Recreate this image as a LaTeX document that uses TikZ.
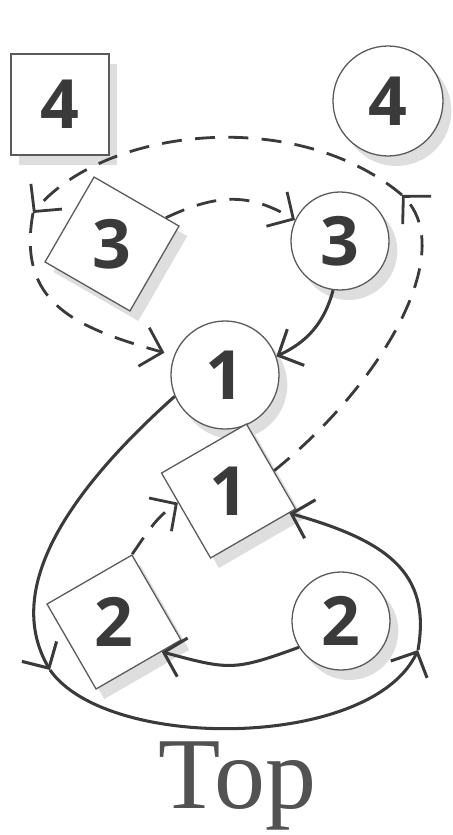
\documentclass[tikz,border=0pt]{standalone}
\usepackage{fontspec}
\usetikzlibrary{arrows.meta,shadows,shapes.geometric}
\newfontfamily\dfont{Open Sans}
\newfontfamily\tfont{Liberation Serif}
\definecolor{ink}{HTML}{3A3A3A}
\definecolor{edgegray}{HTML}{5A5A5A}
\begin{document}
\begin{tikzpicture}[x=0.03cm,y=0.03cm,
  ndbase/.style={draw=edgegray, line width=1.1pt, fill=white, inner sep=0pt, text=ink,
    font=\dfont\bfseries\fontsize{58}{58}\selectfont,
    drop shadow={shadow xshift=0.25cm, shadow yshift=-0.3cm, fill=black!13, opacity=1}},
  ndcirc/.style={ndbase, circle},
  ndbox/.style={ndbase, rectangle},
  ndtilt/.style={ndbase, regular polygon, regular polygon sides=4, minimum size=4.16cm, shape border rotate=#1},
  barbtip/.style={-{Straight Barb[length=0.58cm,width=1.2cm]}},
  solidline/.style={draw=ink, line width=2.6pt, barbtip},
  dashline/.style={draw=ink, line width=2.4pt, dash pattern=on 0.6cm off 0.4cm, barbtip}]
\useasboundingbox (0,0) rectangle (453,-835);

\node[ndbox, minimum width=2.94cm, minimum height=3.03cm] (s4) at (60,-104.5) {4};
\node[ndcirc, minimum size=3.3cm] (c4) at (388,-101) {4};
\node[ndtilt=-30] (s3) at (112,-244) {3};
\node[ndcirc, minimum size=2.94cm] (c3) at (340,-241) {3};
\node[ndcirc, minimum size=3.24cm] (c1) at (225,-375) {1};
\node[ndtilt=30] (s1) at (228.5,-491) {1};
\node[ndtilt=30] (s2) at (114,-622) {2};
\node[ndcirc, minimum size=2.94cm] (c2) at (341,-621) {2};

\coordinate (a4) at (402,-195);
\coordinate (a3) at (33,-213);
\coordinate (p1) at (50,-670);
\coordinate (p2) at (418,-650);

% dashed loop
\draw[dashline] (s1.24) .. controls (383,-383) and (458,-252) .. (a4);
\draw[dashline] (a4) .. controls (295,-105) and (102,-128) .. (a3);
\draw[dashline, shorten >=0.3cm] (a3) .. controls (17,-302) and (73,-327) .. (c1.159);
\draw[dashline] (s3.26) .. controls +(25:55) and +(149:55) .. (c3.155);
\draw[dashline] (s2.75) to[out=55,in=214] (s1.193);

% solid
\draw[solidline] (c3.262) to[out=255,in=25] (c1.20);
\draw[solidline] (c1.203) .. controls (61.5,-497.4) and (5,-592) .. (p1);
\draw[solidline] (p1) .. controls (107.4,-751.9) and (371.5,-749.7) .. (p2);
\draw[solidline] (p2) .. controls (431.9,-571.2) and (384.9,-540.3) .. (s1.-20);
\draw[solidline] (c2.212) to[out=200,in=-15,looseness=1.3] (s2.-32);

\node[font=\tfont\fontsize{87}{87}\selectfont, text=black!68, anchor=base, inner sep=0pt] (top) at (237.5,-808) {Top};
\end{tikzpicture}
\end{document}
